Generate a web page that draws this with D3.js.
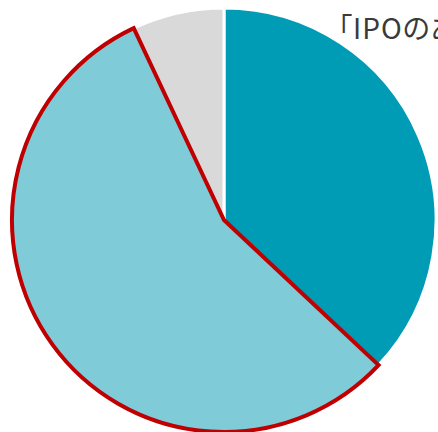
<!DOCTYPE html>
<html>
<head>
<meta charset="utf-8">
<script src="https://cdn.jsdelivr.net/npm/d3@7"></script>
<style>
  html, body { margin: 0; padding: 0; background: #fff; overflow: hidden; }
  svg { display: block; }
  .title { font-feature-settings: "palt"; }
</style>
</head>
<body>
<svg id="chart" width="438" height="432"></svg>
<script>
// Share of each segment (percent), drawn clockwise from 12 o'clock
const categories = ["A", "B", "C"];
const values = [37, 56, 7];
const colors = ["#009bb5", "#7fcbd8", "#d9d9d9"];
const highlighted = "B";
const title = "「IPOのあり方」";

const svg = d3.select("#chart");
const cx = 224, cy = 220, radius = 212;

const data = categories.map((c, i) => ({ category: c, value: values[i], color: colors[i] }));

const pie = d3.pie().sort(null).value(d => d.value);
const arc = d3.arc().innerRadius(0).outerRadius(radius);
const arcs = pie(data);

const g = svg.append("g").attr("transform", `translate(${cx},${cy})`);

// Plain slices with white separators
g.selectAll("path.slice")
  .data(arcs.filter(a => a.data.category !== highlighted))
  .join("path")
  .attr("class", "slice")
  .attr("d", arc)
  .attr("fill", d => d.data.color)
  .attr("stroke", "#ffffff")
  .attr("stroke-width", 3);

// Highlighted slice with red outline, drawn on top
g.selectAll("path.hl")
  .data(arcs.filter(a => a.data.category === highlighted))
  .join("path")
  .attr("class", "hl")
  .attr("d", arc)
  .attr("fill", d => d.data.color)
  .attr("stroke", "#c00000")
  .attr("stroke-width", 4)
  .attr("stroke-linejoin", "miter");

svg.append("text")
  .attr("class", "title")
  .attr("x", 338)
  .attr("y", 39)
  .attr("font-family", "'Noto Sans CJK JP', 'Noto Sans', sans-serif")
  .attr("font-size", 28)
  .attr("letter-spacing", 1)
  .attr("fill", "#3a3a3a")
  .text(title);
</script>
</body>
</html>
